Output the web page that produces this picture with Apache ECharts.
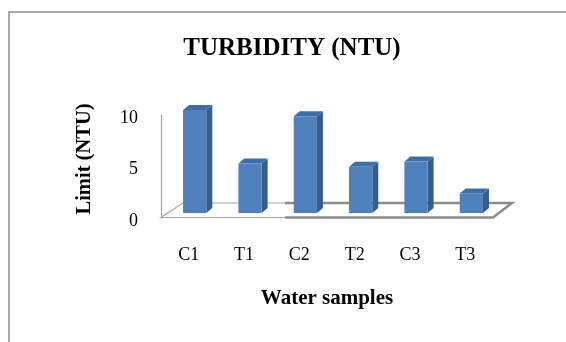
<!DOCTYPE html>
<html>
<head>
<meta charset="utf-8">
<script src="https://cdn.jsdelivr.net/npm/echarts@6/dist/echarts.min.js"></script>
<style>html,body{margin:0;padding:0;background:#fff}#c{width:566px;height:342px}</style>
</head>
<body>
<div id="c"></div>
<script>
var categories = ['C1', 'T1', 'C2', 'T2', 'C3', 'T3'];
var turbidity = [10, 4.8, 9.4, 4.5, 5.0, 1.9];
var yTicks = [0, 5, 10];

var FONT = '"Liberation Serif", "Times New Roman", serif';
var chart = echarts.init(document.getElementById('c'), null, {renderer: 'canvas'});

function renderBar(params, api) {
  var idx = api.value(0);
  var val = api.value(1);
  var base = api.coord([idx, 0]);
  var top = api.coord([idx, val]);
  var band = api.size([1, 0])[0];
  var w = band * 0.42;
  var lift = 5, dx = 6, dy = 5;
  var fx = base[0] + 6 - w / 2;
  var y0 = base[1] - lift, y1 = top[1] - lift;
  return {
    type: 'group',
    children: [
      {type: 'polygon', shape: {points: [[fx + w, y1], [fx + w + dx, y1 - dy], [fx + w + dx, y0 - dy], [fx + w, y0]]},
       style: {fill: '#385d8a'}},
      {type: 'polygon', shape: {points: [[fx, y1], [fx + dx, y1 - dy], [fx + w + dx, y1 - dy], [fx + w, y1]]},
       style: {fill: '#3f6ea6'}},
      {type: 'rect', shape: {x: fx, y: y1, width: w, height: y0 - y1},
       style: {fill: '#4f81bd'}}
    ]
  };
}

var floorThin = {stroke: '#a6a6a6', lineWidth: 1.2, fill: null};
var floorThick = {stroke: '#8c8c8c', lineWidth: 2.5, fill: null};

chart.setOption({
  animation: false,
  backgroundColor: '#fff',
  title: {
    text: 'TURBIDITY (NTU)',
    left: 287, top: 31, textAlign: 'center',
    textStyle: {fontFamily: FONT, fontWeight: 'bold', fontSize: 25, color: '#000'}
  },
  graphic: [
    {type: 'rect', shape: {x: 9, y: 12, width: 620, height: 400}, style: {stroke: '#8c8c8c', lineWidth: 1.5, fill: null}, z: 0},
    {type: 'text', x: 85, y: 159, rotation: Math.PI / 2,
     style: {text: 'Limit (NTU)', fontFamily: FONT, fontWeight: 'bold', fontSize: 20.5, fill: '#000', align: 'center', verticalAlign: 'middle'}},
    {type: 'polyline', shape: {points: [[285, 217.5], [161, 217.5], [183, 203], [285, 203]]}, style: floorThin, z: 1},
    {type: 'polyline', shape: {points: [[285, 217.5], [493, 217.5], [512, 203], [285, 203]]}, style: floorThick, z: 1}
  ],
  grid: {left: 161, right: 73, top: 115, bottom: 124},
  xAxis: {
    type: 'category',
    data: categories,
    name: 'Water samples',
    nameLocation: 'middle',
    nameGap: 70,
    nameTextStyle: {fontFamily: FONT, fontWeight: 'bold', fontSize: 21, color: '#000'},
    axisLine: {show: false},
    axisTick: {show: false},
    axisLabel: {margin: 28, fontFamily: FONT, fontSize: 18, color: '#000'}
  },
  yAxis: {
    type: 'value',
    min: 0, max: 10, interval: 5,
    axisLine: {show: true, lineStyle: {color: '#a6a6a6', width: 1.2}},
    axisTick: {show: false},
    splitLine: {show: false},
    axisLabel: {margin: 23, fontFamily: FONT, fontSize: 18, color: '#000', verticalAlign: 'top', lineHeight: 6,
      formatter: function (v) { return yTicks.indexOf(v) >= 0 ? String(v) : ''; }}
  },
  series: [{
    type: 'custom',
    renderItem: renderBar,
    data: categories.map(function (c, i) { return [i, turbidity[i]]; }),
    encode: {x: 0, y: 1},
    z: 3
  }]
});
</script>
</body>
</html>
